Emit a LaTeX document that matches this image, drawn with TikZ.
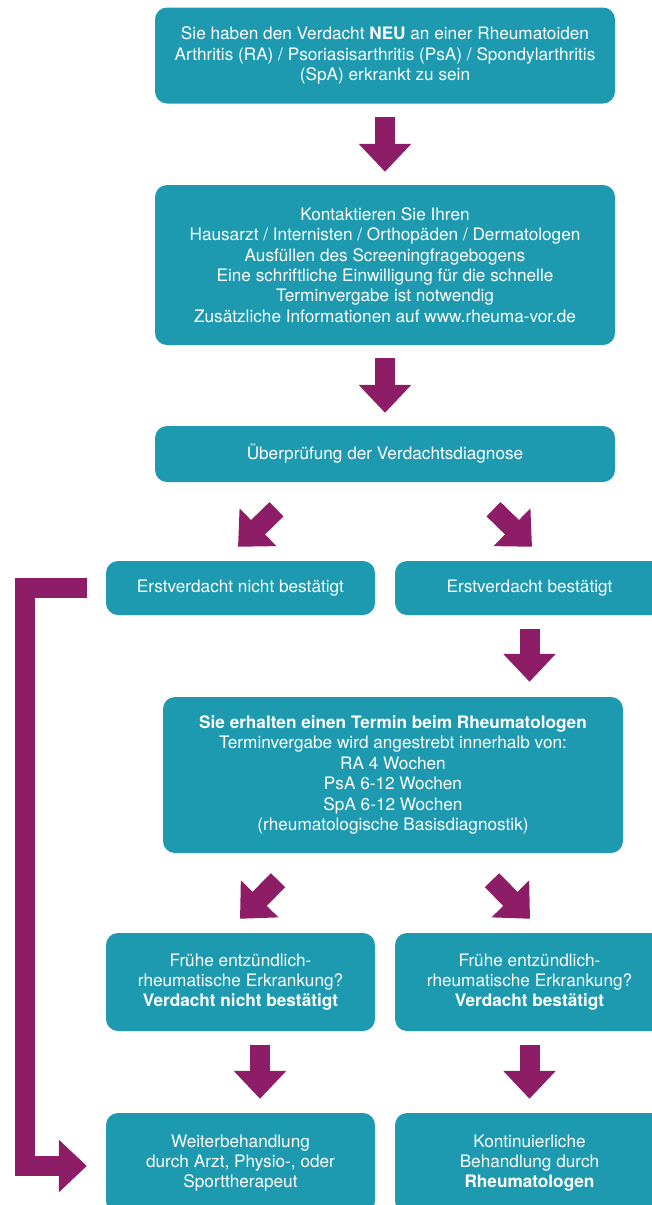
\documentclass[tikz,border=0pt]{standalone}
\usepackage{fontspec}
\setmainfont{TeX Gyre Heros}
\usetikzlibrary{arrows.meta}
\definecolor{boxteal}{RGB}{30,154,176}
\definecolor{flowpurple}{RGB}{140,29,102}
\tikzset{
  box/.style={rectangle, rounded corners=12pt, fill=boxteal, text=white,
    align=center, inner sep=0pt, font=\fontsize{17.2}{20.4}\selectfont},
  widebox/.style={box, minimum width=460pt},
  halfbox/.style={box, minimum width=269pt},
  flowarrow/.style={draw=flowpurple, line width=20pt, line join=miter,
    -{Triangle[length=28pt,width=51pt]}},
}
\begin{document}
\begin{tikzpicture}[x=1pt,y=-1pt]
\useasboundingbox (0,0) rectangle (652,1205);
\clip (0,0) rectangle (652,1205);

% boxes
\node[widebox, minimum height=96pt] (b1) at (385,55.5)
  {Sie haben den Verdacht \textbf{NEU} an einer Rheumatoiden\\
   Arthritis (RA) / Psoriasisarthritis (PsA) / Spondylarthritis\\
   (SpA) erkrankt zu sein};
\node[widebox, minimum height=160pt] (b2) at (385,265)
  {Kontaktieren Sie Ihren\\
   Hausarzt / Internisten / Orthopäden / Dermatologen\\
   Ausfüllen des Screeningfragebogens\\
   Eine schriftliche Einwilligung für die schnelle\\
   Terminvergabe ist notwendig\\
   Zusätzliche Informationen auf www.rheuma-vor.de};
\node[widebox, minimum height=56pt] (b3) at (385,454)
  {Überprüfung der Verdachtsdiagnose};
\node[halfbox, minimum height=54pt] (b4l) at (240.5,588)
  {Erstverdacht nicht bestätigt};
\node[halfbox, minimum height=54pt] (b4r) at (529.5,588)
  {Erstverdacht bestätigt};
\node[widebox, minimum height=156pt] (b5) at (393,775)
  {\textbf{Sie erhalten einen Termin beim Rheumatologen}\\
   Terminvergabe wird angestrebt innerhalb von:\\
   RA 4 Wochen\\
   PsA 6-12 Wochen\\
   SpA 6-12 Wochen\\
   (rheumatologische Basisdiagnostik)};
\node[halfbox, minimum height=98pt] (b6l) at (240.5,982)
  {Frühe entzündlich-\\
   rheumatische Erkrankung?\\
   \textbf{Verdacht nicht bestätigt}};
\node[halfbox, minimum height=98pt] (b6r) at (529.5,982)
  {Frühe entzündlich-\\
   rheumatische Erkrankung?\\
   \textbf{Verdacht bestätigt}};
\node[halfbox, minimum height=100pt] (b7l) at (240.5,1163)
  {Weiterbehandlung\\
   durch Arzt, Physio-, oder\\
   Sporttherapeut};
\node[halfbox, minimum height=100pt] (b7r) at (529.5,1163)
  {Kontinuierliche\\
   Behandlung durch\\
   \textbf{Rheumatologen}};

% straight arrows
\draw[flowarrow] ([yshift=-13pt]b1.south) -- ([yshift=13pt]b2.north);
\draw[flowarrow] ([yshift=-13pt]b2.south) -- ([yshift=13pt]b3.north);
\draw[flowarrow] ([yshift=-14pt]b4r.south) -- ([yshift=15pt]b4r.south |- b5.north);
\draw[flowarrow] ([shift={(19.5pt,-14pt)}]b6l.south) -- ([shift={(19.5pt,14pt)}]b6l.south |- b7l.north);
\draw[flowarrow] ([yshift=-14pt]b6r.south) -- ([yshift=14pt]b7r.north);

% diagonal arrows
\draw[flowarrow] ([shift={(-108.5pt,-27pt)}]b3.south) -- ([shift={(-2.5pt,14pt)}]b4l.north);
\draw[flowarrow] ([shift={(108.5pt,-27pt)}]b3.south) -- ([shift={(2.5pt,14pt)}]b4r.north);
\draw[flowarrow] ([shift={(-115pt,-27pt)}]b5.south) -- ([shift={(-0.5pt,14pt)}]b6l.north);
\draw[flowarrow] ([shift={(99pt,-27pt)}]b5.south) -- ([shift={(0.5pt,14pt)}]b6r.north);

% return path on the left
\coordinate (rail) at (25,0);
\draw[flowarrow] ([xshift=-19pt]b4l.west) -- (b4l.west -| rail)
  -- ([yshift=-3pt]b7l.west -| rail) -- ([shift={(-19pt,-3pt)}]b7l.west);
\end{tikzpicture}
\end{document}
